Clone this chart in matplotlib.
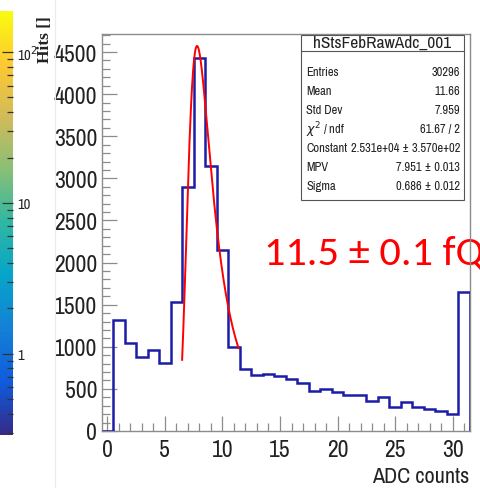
import matplotlib
matplotlib.use("Agg")
import matplotlib.pyplot as plt
import numpy as np
from matplotlib.colors import LinearSegmentedColormap, LogNorm
from matplotlib.cm import ScalarMappable
from matplotlib.ticker import MultipleLocator, FixedLocator, NullFormatter

# histogram hStsFebRawAdc_001, one bin per ADC value 0..31
adc = np.arange(0, 32)
counts = [0, 1318, 1041, 875, 962, 811, 1536, 2894, 4426, 3143, 2150, 1001,
          736, 661, 677, 650, 618, 570, 471, 499, 467, 431, 431, 351, 404,
          281, 341, 289, 261, 234, 202, 1647]

# landau fit parameters (from stats box)
fit_const = 2.531e4
fit_mpv = 7.951
fit_sigma = 0.686
fit_range = (6.5, 11.4)

stats_rows = [("Entries", "30296"), ("Mean", "11.66"), ("Std Dev", "7.959"),
              ("$\\chi^{2}$ / ndf", "61.67 / 2"),
              ("Constant", "2.531e+04 ± 3.570e+02"),
              ("MPV", "7.951 ± 0.013"), ("Sigma", "0.686 ± 0.012")]

# ROOT kBird palette
bird = [(0.2082, 0.1664, 0.5293), (0.0592, 0.3599, 0.8684), (0.0780, 0.5041, 0.8385),
        (0.0232, 0.6419, 0.7914), (0.1802, 0.7178, 0.6425), (0.5301, 0.7492, 0.4662),
        (0.8186, 0.7328, 0.3499), (0.9956, 0.7862, 0.1968), (0.9764, 0.9832, 0.0539)]
cmap = LinearSegmentedColormap.from_list("bird", bird)


def landau(x, mpv, sigma):
    lam = (np.asarray(x) - mpv) / sigma
    t = np.linspace(1e-9, 60, 30000)
    f = np.exp(-t * np.log(t) - lam[:, None] * t) * np.sin(np.pi * t)
    return np.trapezoid(f, t, axis=1) / np.pi


W, H = 480, 489
fig = plt.figure(figsize=(4.8, 4.89), dpi=100)
narrow = ["Archivo Narrow", "Liberation Sans", "DejaVu Sans"]
gray = "#8c8c8c"
ink = "#222222"

ax = fig.add_axes([101.5 / W, 1 - 432 / H, (470 - 101.5) / W, (432 - 34.5) / H])
edges = np.append(adc - 0.5, adc[-1] + 0.5)
ax.stairs(counts, edges, baseline=0, color="#1c1ca8", lw=1.8, zorder=3)

xf = np.linspace(fit_range[0], fit_range[1], 200)
ax.plot(xf, fit_const * landau(xf, fit_mpv, fit_sigma), color="#ff0000", lw=1.4, zorder=4)

ax.set_xlim(-0.5, 31.5)
ax.set_ylim(0, 4720)
ax.xaxis.set_major_locator(MultipleLocator(5))
ax.xaxis.set_minor_locator(MultipleLocator(1))
ax.yaxis.set_major_locator(MultipleLocator(500))
ax.yaxis.set_minor_locator(MultipleLocator(100))
ax.tick_params(which="both", direction="in", color=gray, top=False, right=False)
ax.tick_params(which="major", length=11, width=0.9)
ax.tick_params(which="minor", length=5.5, width=0.9)
ax.tick_params(axis="y", pad=3)
ax.tick_params(axis="x", pad=6)
for s in ax.spines.values():
    s.set_color(gray)
    s.set_linewidth(1.0)
for lab in ax.get_xticklabels() + ax.get_yticklabels():
    lab.set_family(narrow)
    lab.set_fontsize(17)
    lab.set_color(ink)
fig.text(469 / W, 1 - 483 / H, "ADC counts", ha="right", va="baseline",
         family=narrow, fontsize=16, color=ink)

# stats box
x0, x1 = 300.7 / W, 464.3 / W
y0, y1 = 1 - 200.7 / H, 1 - 36 / H
fig.patches.append(plt.Rectangle((x0, y0), x1 - x0, y1 - y0, transform=fig.transFigure,
                                 fill=True, fc="white", ec="#555555", lw=0.8, zorder=5))
fig.lines.append(plt.Line2D([x0, x1], [1 - 51.7 / H] * 2, transform=fig.transFigure,
                            color="#555555", lw=0.8, zorder=6))
fig.text((x0 + x1) / 2, 1 - 43.5 / H, "hStsFebRawAdc_001", ha="center", va="center",
         family=narrow, fontsize=12.5, color=ink, zorder=7)
for i, (name, val) in enumerate(stats_rows):
    yy = 1 - (72.7 + 19.0 * i) / H
    fig.text(306.5 / W, yy, name, ha="left", va="center", family=narrow, fontsize=9,
             color=ink, zorder=7)
    fig.text(460 / W, yy, val, ha="right", va="center", family=narrow, fontsize=9,
             color=ink, zorder=7)

# big red annotation, runs off the right edge
ax.text(264 / W, 1 - 265 / H, "11.5 ± 0.1 fQ", transform=fig.transFigure, color="#ff0000",
        family=["Carlito", "DejaVu Sans"], fontsize=30.5, ha="left", va="baseline",
        clip_on=False, zorder=0.5)

# colour palette on the left
cax = fig.add_axes([0, 1 - 436 / H, 13 / W, (436 - 12) / H])
norm = LogNorm(0.29, 187)
cb = fig.colorbar(ScalarMappable(norm=norm, cmap=cmap), cax=cax)
cb.outline.set_visible(False)
cax.yaxis.set_ticks_position("right")
cax.yaxis.set_major_locator(FixedLocator([1, 10, 100]))
cax.set_yticklabels(["1", "10", "10$^{2}$"])
minors = [m * 10.0 ** e for e in (-1, 0, 1, 2) for m in range(2, 10)]
cax.yaxis.set_minor_locator(FixedLocator([v for v in minors if 0.29 < v < 187]))
cax.yaxis.set_minor_formatter(NullFormatter())
cax.tick_params(which="both", direction="in", color="#333333", width=0.9, pad=3)
cax.tick_params(which="major", length=8, labelsize=10.5)
cax.tick_params(which="minor", length=4)
for lab in cax.get_yticklabels():
    lab.set_family(narrow)
    lab.set_color(ink)

fig.text(45 / W, 1 - 40 / H, "Hits []", rotation=90, ha="center", va="center",
         family=["Liberation Serif", "DejaVu Serif"], fontweight="bold", fontsize=12.5,
         color=ink)

fig.lines.append(plt.Line2D([55 / W] * 2, [0, 1], transform=fig.transFigure,
                            color="#ececec", lw=0.8, zorder=0))

fig.savefig("out.png", dpi=100)
